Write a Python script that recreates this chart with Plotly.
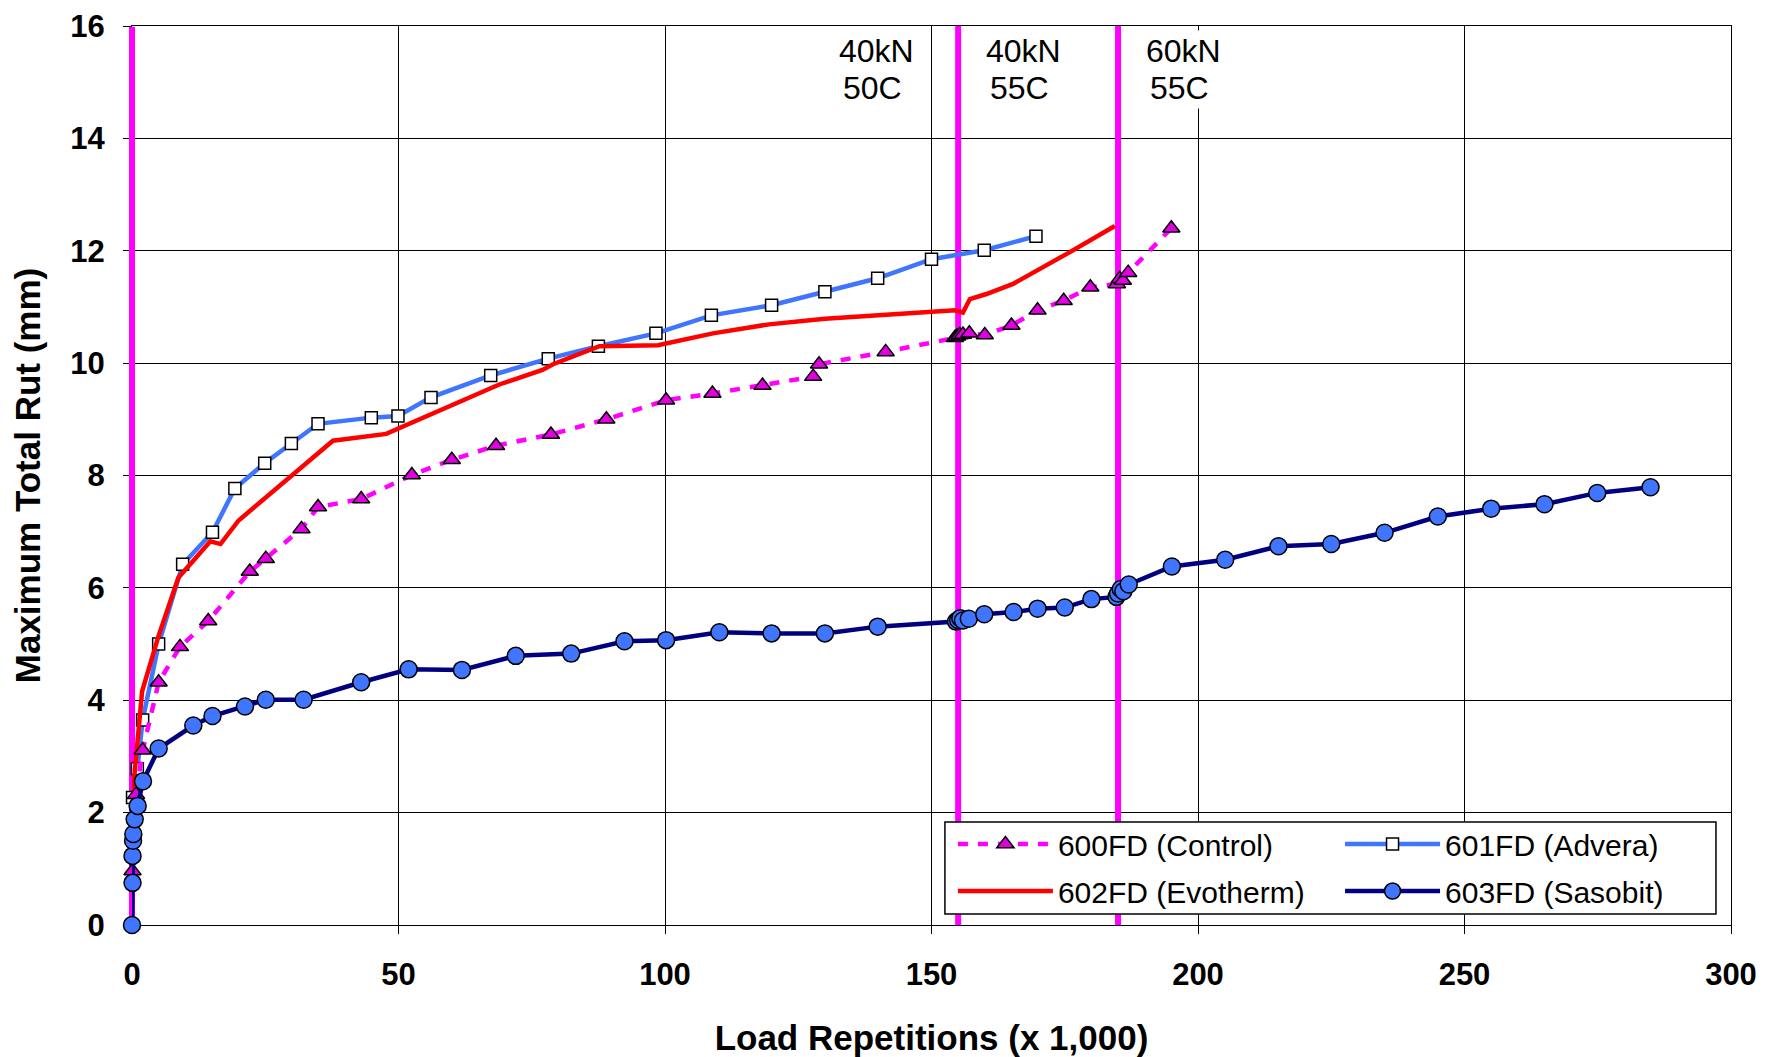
import plotly.graph_objects as go

# ---------------- data ----------------
control_x = [0.1, 0.75, 2.0, 5.0, 9.0, 14.3, 22.1, 25.1, 31.8, 34.9, 43.0, 52.5, 60.0, 68.3,
             78.6, 89.0, 100.2, 108.9, 118.3, 127.8, 128.9, 141.4, 154.4, 154.8, 155.3,
             155.9, 157.1, 160.0, 165.0, 169.9, 174.8, 179.8, 184.8, 185.3, 185.9, 186.9, 195.0]
control_y = [0.96, 2.32, 3.11, 4.32, 4.95, 5.41, 6.29, 6.52, 7.05, 7.44, 7.58, 8.01, 8.28, 8.53,
             8.73, 9.00, 9.34, 9.46, 9.60, 9.76, 9.98, 10.20, 10.45, 10.48, 10.50,
             10.51, 10.53, 10.50, 10.67, 10.94, 11.11, 11.35, 11.41, 11.50, 11.47, 11.61, 12.40]

advera_x = [0.1, 1.0, 2.0, 5.0, 9.5, 15.1, 19.3, 24.9, 29.9, 34.9, 44.9, 49.9, 56.1, 67.3,
            78.1, 87.5, 98.3, 108.7, 120.0, 130.0, 139.9, 150.0, 159.9, 169.6]
advera_y = [2.27, 2.78, 3.65, 5.00, 6.42, 6.99, 7.77, 8.22, 8.57, 8.92, 9.03, 9.06, 9.39, 9.78,
            10.08, 10.30, 10.53, 10.85, 11.03, 11.27, 11.51, 11.85, 12.01, 12.26]

evotherm_x = [0.0, 0.9, 1.9, 5.0, 8.7, 14.7, 16.6, 20.0, 30.2, 37.7, 47.7, 68.9, 77.0, 79.0,
              87.7, 98.7, 109.0, 119.5, 130.0, 144.1, 154.4, 155.9, 157.2, 160.3, 165.3,
              175.3, 184.4]
evotherm_y = [2.20, 3.10, 4.16, 5.15, 6.18, 6.83, 6.78, 7.20, 8.02, 8.62, 8.74, 9.62, 9.88, 9.98,
              10.30, 10.32, 10.53, 10.69, 10.79, 10.87, 10.94, 10.90, 11.14, 11.23, 11.41,
              11.94, 12.44]

sasobit_x = [0.0, 0.1, 0.1, 0.2, 0.25, 0.5, 1.06, 2.06, 5.0, 11.5, 15.1, 21.2, 25.1, 32.2,
             43.0, 51.9, 61.9, 72.0, 82.4, 92.4, 100.2, 110.2, 120.0, 130.0, 139.9,
             154.6, 155.0, 155.4, 155.9, 157.0, 159.9, 165.4, 169.9, 175.0, 180.0,
             184.7, 185.0, 185.5, 186.0, 187.0, 195.1, 205.1, 215.1, 225.0, 235.0,
             245.0, 255.0, 265.0, 274.9, 284.9]
sasobit_y = [0.00, 0.75, 1.23, 1.50, 1.62, 1.88, 2.12, 2.56, 3.14, 3.55, 3.72, 3.89, 4.01, 4.01,
             4.32, 4.55, 4.54, 4.79, 4.83, 5.05, 5.07, 5.21, 5.19, 5.19, 5.31,
             5.40, 5.43, 5.46, 5.42, 5.45, 5.53, 5.57, 5.63, 5.65, 5.80,
             5.84, 5.90, 5.98, 5.94, 6.06, 6.38, 6.50, 6.74, 6.78, 6.98,
             7.27, 7.41, 7.49, 7.69, 7.79]

stage_boundaries = [0, 155, 185]
stage_load = ["40kN", "40kN", "60kN"]
stage_temp = ["50C", "55C", "55C"]
stage_load_x = [139.7, 167.2, 197.3]
stage_temp_x = [139.0, 166.6, 196.5]
stage_load_y = 15.55
stage_temp_y = 14.90

x_range = [0, 300]
y_range = [0, 16]
x_ticks = [0, 50, 100, 150, 200, 250, 300]
y_ticks = [0, 2, 4, 6, 8, 10, 12, 14, 16]

FONT = "Liberation Sans, Arial, sans-serif"
MAGENTA = "#FF00FF"
BLUE = "#3F75FF"
LW = 4.5

fig = go.Figure()

# magenta stage boundary lines (line trace: above the grid, below the data)
inner_x, inner_y, edge_x = [], [], []
for xb in stage_boundaries:
    if xb == x_range[0]:
        edge_x.append(xb)
    else:
        inner_x += [xb, xb, None]
        inner_y += [y_range[0], y_range[1], None]
fig.add_trace(go.Scatter(x=inner_x, y=inner_y, mode="lines", line=dict(color=MAGENTA, width=6),
                         showlegend=False, hoverinfo="skip"))
# the boundary on the axis edge: drawn as an unclipped vertical-line marker at mid-height
fig.add_trace(go.Scatter(x=edge_x, y=[(y_range[0] + y_range[1]) / 2] * len(edge_x), mode="markers",
                         marker=dict(symbol="line-ns", size=641, line=dict(color=MAGENTA, width=6)),
                         showlegend=False, hoverinfo="skip", cliponaxis=False))

fig.add_trace(go.Scatter(
    x=advera_x, y=advera_y, name="601FD (Advera)", mode="lines+markers",
    line=dict(color=BLUE, width=LW),
    marker=dict(symbol="square", size=12, color="white", line=dict(color="black", width=1.5)),
    legend="legend2", legendrank=1, legendgroup="a", cliponaxis=False))

fig.add_trace(go.Scatter(
    x=evotherm_x, y=evotherm_y, name="602FD (Evotherm)", mode="lines",
    line=dict(color="#FF0000", width=LW),
    legend="legend", legendrank=2, legendgroup="e", cliponaxis=False))

fig.add_trace(go.Scatter(
    x=control_x, y=control_y, name="600FD (Control)", mode="lines+markers",
    line=dict(color=MAGENTA, width=LW, dash="10px,10px"),
    marker=dict(symbol="triangle-up", size=15, color="#E000E0", line=dict(color="black", width=1.5)),
    legend="legend", legendrank=1, legendgroup="c", cliponaxis=False))

fig.add_trace(go.Scatter(
    x=sasobit_x, y=sasobit_y, name="603FD (Sasobit)", mode="lines+markers",
    line=dict(color="#000080", width=LW),
    marker=dict(symbol="circle", size=17, color=BLUE, line=dict(color="black", width=1.5)),
    legend="legend2", legendrank=2, legendgroup="s", cliponaxis=False))

# stage labels (one annotation per text line, white background)
for lx, lt in zip(stage_load_x, stage_load):
    fig.add_annotation(x=lx, y=stage_load_y, xref="x", yref="y", text=lt, showarrow=False,
                       font=dict(family=FONT, size=32, color="black"),
                       bgcolor="white", borderpad=2)
for lx, lt in zip(stage_temp_x, stage_temp):
    fig.add_annotation(x=lx, y=stage_temp_y, xref="x", yref="y", text=lt, showarrow=False,
                       font=dict(family=FONT, size=32, color="black"),
                       bgcolor="white", borderpad=2)

# legend frame
fig.add_shape(type="rect", xref="paper", yref="paper", x0=0.5084, x1=0.9906, y0=0.0122, y1=0.1146,
              line=dict(color="black", width=1.5), fillcolor="white", layer="above")

legend_common = dict(bgcolor="rgba(0,0,0,0)", borderwidth=0, orientation="v",
                     xanchor="left", yanchor="top", traceorder="grouped", tracegroupgap=5,
                     font=dict(family=FONT, size=30, color="black"), itemwidth=95)

axis_common = dict(showgrid=True, gridcolor="black", gridwidth=1.3, zeroline=False,
                   showline=True, linecolor="black", linewidth=1.3, mirror=True,
                   ticks="outside", ticklen=8, tickcolor="black", automargin=False,
                   layer="below traces",
                   tickfont=dict(family=FONT, size=31, color="black", weight="bold"))

fig.update_layout(
    width=1774, height=1057,
    margin=dict(l=124, r=51, t=18, b=140),
    paper_bgcolor="white", plot_bgcolor="white",
    font=dict(family=FONT, color="black"),
    legend=dict(x=0.5134, y=0.119, **legend_common),
    legend2=dict(x=0.7555, y=0.119, **legend_common),
    xaxis=dict(range=x_range, tickvals=x_ticks, ticktext=[str(v) for v in x_ticks],
               ticklabelstandoff=14,
               title=dict(text="Load Repetitions (x 1,000)", standoff=34,
                          font=dict(family=FONT, size=35, color="black", weight="bold")),
               **axis_common),
    yaxis=dict(range=y_range, tickvals=y_ticks, ticktext=[str(v) for v in y_ticks],
               ticklabelstandoff=12,
               title=dict(text="Maximum Total Rut (mm)", standoff=18,
                          font=dict(family=FONT, size=35, color="black", weight="bold")),
               **axis_common),
)

fig.write_html("out.html")
